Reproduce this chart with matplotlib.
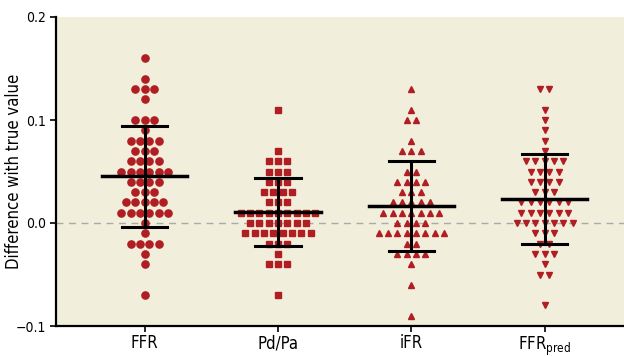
import matplotlib
matplotlib.use('Agg')
import matplotlib.pyplot as plt
import numpy as np

plt.rcParams['font.family'] = ['DejaVu Sans']
plt.rcParams['font.stretch'] = 'condensed'
plt.rcParams['mathtext.fontset'] = 'custom'
plt.rcParams['mathtext.rm'] = 'DejaVu Sans:stretch=condensed'

categories = ['FFR', 'Pd/Pa', 'iFR', r'FFR$_{\mathrm{pred}}$']
markers = ['o', 's', '^', 'v']
msizes = [5.2, 4.6, 5.0, 5.0]

# (value, count) per row
ffr_rows = [(0.16, 1), (0.14, 1), (0.13, 3), (0.12, 1), (0.10, 3), (0.09, 1),
            (0.08, 4), (0.07, 3), (0.06, 4), (0.05, 6), (0.04, 4), (0.03, 3),
            (0.02, 5), (0.01, 6), (0.00, 1), (-0.01, 1), (-0.02, 4),
            (-0.03, 1), (-0.04, 1), (-0.07, 1)]
pdpa_rows = [(0.11, 1), (0.07, 1), (0.06, 3), (0.05, 3), (0.04, 3), (0.03, 4),
             (0.02, 3), (0.01, 9), (0.00, 7), (-0.01, 8), (-0.02, 3),
             (-0.03, 1), (-0.04, 3), (-0.07, 1)]
ifr_rows = [(0.13, 1), (0.11, 1), (0.10, 2), (0.08, 1), (0.07, 3), (0.05, 2),
            (0.04, 4), (0.03, 3), (0.02, 5), (0.01, 7), (0.00, 4), (-0.01, 8),
            (-0.02, 2), (-0.03, 4), (-0.04, 1), (-0.06, 1), (-0.09, 1)]
ffrpred_rows = [(0.13, 2), (0.11, 1), (0.10, 1), (0.09, 1), (0.08, 1),
                (0.07, 1), (0.06, 5), (0.05, 4), (0.04, 4), (0.03, 3),
                (0.02, 6), (0.01, 6), (0.00, 7), (-0.01, 3), (-0.02, 2),
                (-0.03, 3), (-0.04, 1), (-0.05, 2), (-0.08, 1)]
all_rows = [ffr_rows, pdpa_rows, ifr_rows, ffrpred_rows]

red = '#B01E23'
bg = '#F2EEDC'

fig = plt.figure(figsize=(6.24, 3.56), dpi=100)
ax = fig.add_axes([56 / 624, 30 / 356, 568 / 624, 309 / 356])
ax.set_facecolor(bg)

step = 0.07
for i, rows in enumerate(all_rows):
    xc = i + 1
    xs, ys = [], []
    for v, n in rows:
        offs = (np.arange(n) - (n - 1) / 2) * step
        xs.extend(xc + offs)
        ys.extend([v] * n)
    ys = np.array(ys)
    ax.plot(xs, ys, linestyle='none', marker=markers[i], ms=msizes[i],
            color=red, mec=red, zorder=3)
    m = ys.mean()
    sd = ys.std(ddof=1)
    ax.plot([xc - 0.32, xc + 0.32], [m, m], color='black', lw=2.5, zorder=4)
    ax.plot([xc - 0.17, xc + 0.17], [m + sd, m + sd], color='black', lw=2.2, zorder=4)
    ax.plot([xc - 0.17, xc + 0.17], [m - sd, m - sd], color='black', lw=2.2, zorder=4)
    ax.plot([xc, xc], [m - sd, m + sd], color='black', lw=2.2, zorder=4)

ax.axhline(0, color='#AAAAAA', lw=1, ls=(0, (5, 4)), zorder=1)

ax.set_xlim(0.335, 4.595)
ax.set_ylim(-0.1, 0.2)
ax.set_yticks([-0.1, 0.0, 0.1, 0.2])
ax.set_yticklabels(['\u22120.1', '0.0', '0.1', '0.2'], fontsize=10)
ax.set_xticks([1, 2, 3, 4])
ax.set_xticklabels(categories, fontsize=12)
ax.set_ylabel('Difference with true value', fontsize=12)
ax.yaxis.set_label_coords(-33 / 568, 0.5)

for s in ['top', 'right']:
    ax.spines[s].set_visible(False)
for s in ['left', 'bottom']:
    ax.spines[s].set_linewidth(1.6)
ax.tick_params(direction='out', length=4, width=1.2, pad=3)
ax.tick_params(axis='x', pad=2)

fig.savefig('out.png', dpi=100)
